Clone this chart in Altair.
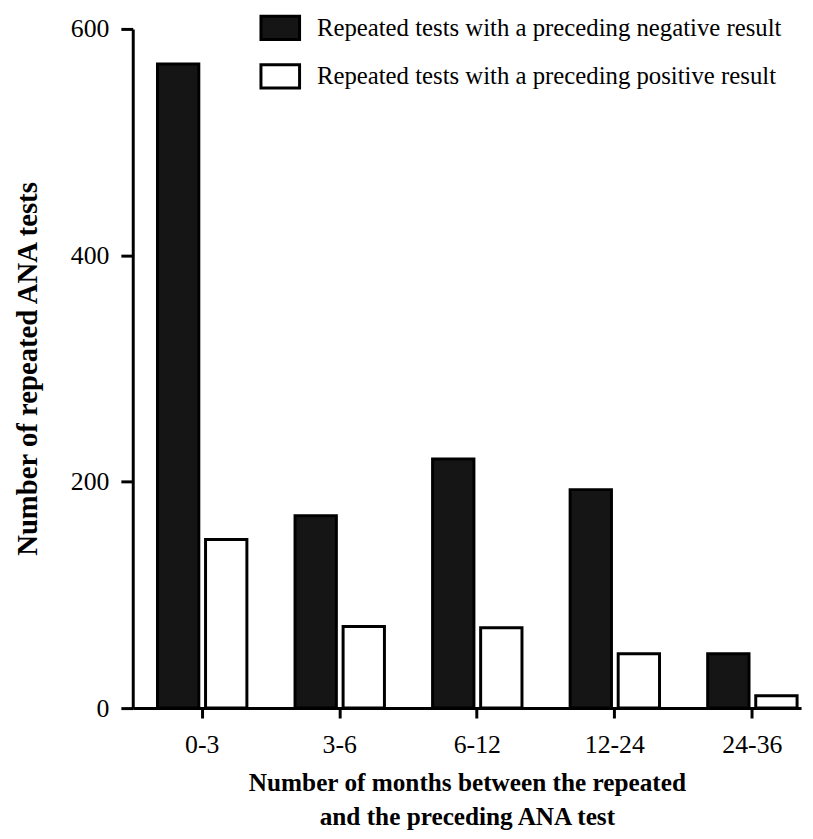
import altair as alt
import pandas as pd

categories = ["0-3", "3-6", "6-12", "12-24", "24-36"]
negative_counts = [569, 170, 220, 193, 48]
positive_counts = [149, 72, 71, 48, 11]
series_names = [
    "Repeated tests with a preceding negative result",
    "Repeated tests with a preceding positive result",
]
y_ticks = [0, 200, 400, 600]
x_title = ["Number of months between the repeated", "and the preceding ANA test"]
y_title = "Number of repeated ANA tests"

rows = []
for c, n, p in zip(categories, negative_counts, positive_counts):
    rows.append({"interval": c, "series": series_names[0], "count": n})
    rows.append({"interval": c, "series": series_names[1], "count": p})
df = pd.DataFrame(rows)

FONT = "Liberation Serif"
W, H = 675, 686

chart = (
    alt.Chart(df)
    .mark_bar(stroke="black", strokeWidth=3)
    .encode(
        x=alt.X(
            "interval:N",
            sort=categories,
            scale=alt.Scale(paddingInner=0.35, paddingOuter=0.1043, align=0.862),
            axis=alt.Axis(
                title=x_title,
                labelAngle=0,
                labelFont=FONT,
                labelFontSize=26,
                labelColor="black",
                labelPadding=14,
                tickSize=10,
                tickWidth=3,
                tickColor="black",
                domainWidth=3,
                domainColor="black",
                titleFont=FONT,
                titleFontSize=25.5,
                titleFontWeight="bold",
                titleColor="black",
                titleLineHeight=35,
                titlePadding=13,
            ),
        ),
        xOffset=alt.XOffset(
            "series:N",
            sort=series_names,
            scale=alt.Scale(paddingInner=0.14, paddingOuter=0),
        ),
        y=alt.Y(
            "count:Q",
            scale=alt.Scale(domain=[0, 600], nice=False),
            axis=alt.Axis(
                values=y_ticks,
                title=y_title,
                grid=False,
                labelFont=FONT,
                labelFontSize=26,
                labelColor="black",
                labelPadding=12,
                tickSize=12,
                tickWidth=3,
                tickColor="black",
                domainWidth=3,
                domainColor="black",
                titleFont=FONT,
                titleFontSize=29,
                titleFontWeight="bold",
                titleColor="black",
                titlePadding=28,
            ),
        ),
        fill=alt.Fill(
            "series:N",
            sort=series_names,
            scale=alt.Scale(domain=series_names, range=["#151515", "#ffffff"]),
            legend=alt.Legend(
                title=None,
                orient="none",
                legendX=128,
                legendY=-22,
                padding=0,
                symbolType="M-1,-0.6H1V0.6H-1Z",
                symbolSize=1521,
                symbolStrokeColor="black",
                symbolStrokeWidth=3,
                labelFont=FONT,
                labelFontSize=25,
                labelColor="black",
                labelOffset=16,
                labelLimit=700,
                rowPadding=10,
            ),
        ),
    )
    .properties(
        width=W,
        height=H,
        autosize=alt.AutoSizeParams(type="none"),
        padding={"left": 126, "top": 17, "right": 4, "bottom": 120},
        background="white",
    )
    .configure_view(stroke=None)
)

chart.save("out.html", embed_options={"renderer": "svg", "actions": False})
